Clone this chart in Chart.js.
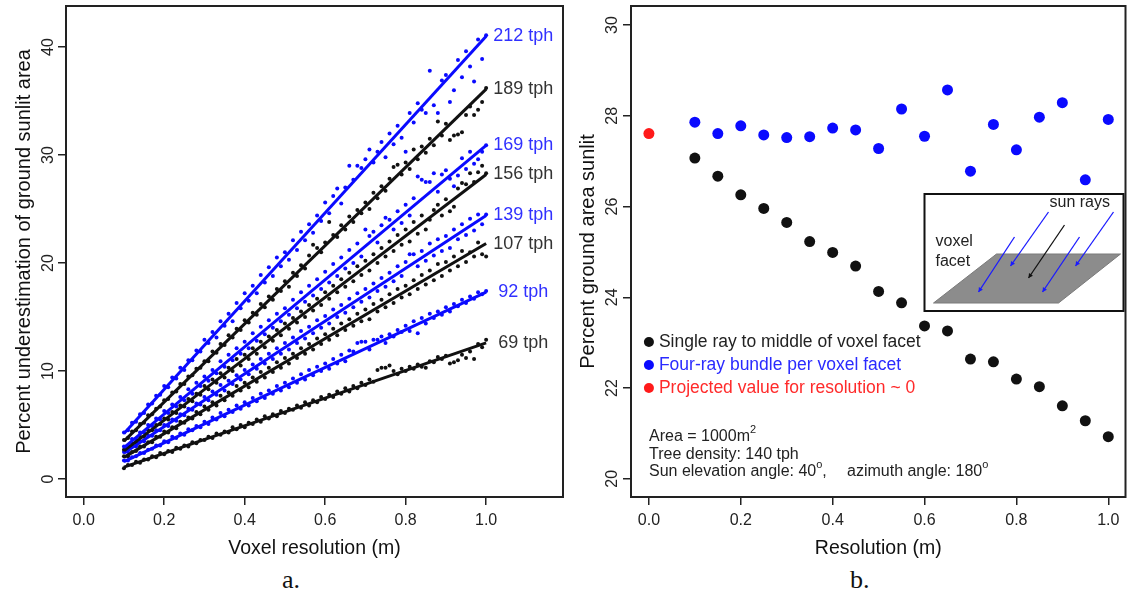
<!DOCTYPE html>
<html lang="en">
<head>
  <meta charset="UTF-8" />
  <title>Ground sunlit area vs voxel resolution</title>
  <style>
    html, body { margin: 0; padding: 0; background: #fff; }
    body { width: 1131px; height: 593px; position: relative; overflow: hidden; }
    #chartA { position: absolute; left: 0; top: 0; }
    #chartB { position: absolute; left: 570px; top: 0; }
    .caption {
      position: absolute; top: 567px;
      font-family: "Liberation Serif", "Times New Roman", serif;
      font-size: 26px; line-height: 26px; color: #111;
    }
  </style>
</head>
<body>

  <canvas id="chartA" width="570" height="561"></canvas>
  <canvas id="chartB" width="561" height="561"></canvas>
  <div class="caption" style="left:282px">a.</div>
  <div class="caption" style="left:850px">b.</div>

  <script src="https://cdn.jsdelivr.net/npm/chart.js"></script>
  <script>
    // ---- panel a: underestimation vs voxel resolution, one series per tree density ----
    const resolutionA = [
      0.10, 0.11, 0.12, 0.13, 0.14, 0.15, 0.16, 0.17, 0.18, 0.19,
      0.20, 0.21, 0.22, 0.23, 0.24, 0.25, 0.26, 0.27, 0.28, 0.29,
      0.30, 0.31, 0.32, 0.33, 0.34, 0.35, 0.36, 0.37, 0.38, 0.39,
      0.40, 0.41, 0.42, 0.43, 0.44, 0.45, 0.46, 0.47, 0.48, 0.49,
      0.50, 0.51, 0.52, 0.53, 0.54, 0.55, 0.56, 0.57, 0.58, 0.59,
      0.60, 0.61, 0.62, 0.63, 0.64, 0.65, 0.66, 0.67, 0.68, 0.69,
      0.70, 0.71, 0.72, 0.73, 0.74, 0.75, 0.76, 0.77, 0.78, 0.79,
      0.80, 0.81, 0.82, 0.83, 0.84, 0.85, 0.86, 0.87, 0.88, 0.89,
      0.90, 0.91, 0.92, 0.93, 0.94, 0.95, 0.96, 0.97, 0.98, 0.99,
      1.00
    ];
    const tph212 = [
      4.3, 4.5, 5.2, 5.3, 6.0, 6.1, 6.9, 7.0, 7.7, 7.8,
      8.6, 8.5, 9.4, 9.3, 10.3, 10.1, 11.0, 11.0, 11.9, 11.8,
      12.9, 12.6, 13.6, 13.1, 14.6, 14.2, 15.3, 14.6, 16.3, 15.8,
      17.2, 16.5, 17.9, 17.2, 18.9, 18.2, 19.6, 18.8, 20.5, 19.7,
      21.0, 20.3, 22.1, 21.2, 22.9, 22.1, 23.6, 22.8, 24.4, 23.9,
      25.6, 24.6, 26.2, 26.9, 25.5, 27.0, 29.0, 27.7, 29.0, 28.8,
      29.6, 30.5, 29.3, 30.3, 31.2, 29.8, 32.0, 31.0, 32.7, 31.6,
      30.3, 33.9, 33.0, 34.8, 34.2, 33.9, 37.8, 34.6, 33.9, 36.9,
      37.4, 34.9, 36.0, 38.8, 37.2, 39.6, 38.2, 36.8, 40.7, 38.9,
      41.1
    ];
    const tph189 = [
      3.6, 3.8, 4.4, 4.5, 5.1, 5.2, 5.9, 6.0, 6.5, 6.7,
      7.3, 7.4, 8.0, 8.1, 8.8, 8.8, 9.5, 9.6, 10.2, 10.3,
      10.9, 10.9, 11.8, 11.7, 12.5, 12.4, 13.3, 13.1, 13.9, 13.8,
      14.7, 14.5, 15.4, 15.2, 16.2, 15.9, 16.9, 16.6, 17.6, 17.4,
      18.3, 17.8, 19.1, 18.8, 19.8, 19.5, 20.7, 21.7, 21.4, 21.0,
      21.9, 23.8, 22.6, 22.4, 23.5, 23.1, 24.3, 23.8, 24.9, 24.6,
      25.6, 25.0, 26.5, 26.0, 27.1, 26.7, 27.8, 28.9, 29.1, 28.2,
      29.3, 28.7, 30.5, 29.6, 30.8, 30.2, 31.5, 30.9, 33.1, 31.8,
      32.9, 31.4, 31.8, 31.9, 32.1, 33.7, 34.5, 33.7, 34.2, 34.9,
      36.2
    ];
    const tph169 = [
      3.0, 3.1, 3.7, 3.7, 4.3, 4.3, 5.0, 4.9, 5.6, 5.5,
      6.3, 6.1, 6.9, 6.7, 7.6, 7.3, 8.3, 7.9, 8.9, 8.6,
      9.5, 9.1, 10.1, 9.8, 10.9, 10.4, 11.5, 11.0, 12.1, 11.6,
      12.7, 12.1, 13.5, 12.8, 14.1, 13.4, 14.7, 14.0, 15.3, 14.6,
      15.8, 15.2, 16.6, 15.8, 17.3, 16.4, 17.9, 17.0, 18.5, 17.6,
      19.2, 18.2, 19.9, 18.8, 20.5, 19.5, 21.2, 20.0, 21.8, 20.6,
      23.1, 22.5, 22.9, 21.9, 23.5, 24.2, 24.0, 23.1, 24.8, 23.7,
      25.4, 24.4, 26.0, 28.0, 27.7, 27.5, 27.5, 28.3, 26.6, 28.2,
      28.6, 27.8, 27.1, 28.1, 29.7, 28.7, 30.3, 29.2, 29.6, 30.3,
      30.9
    ];
    const tph156 = [
      2.7, 2.8, 3.3, 3.4, 3.9, 3.9, 4.5, 4.5, 5.0, 5.1,
      5.6, 5.5, 6.2, 6.1, 6.8, 6.7, 7.4, 7.2, 7.9, 7.8,
      8.6, 8.3, 9.2, 8.9, 9.8, 9.4, 10.3, 10.0, 11.1, 10.5,
      11.5, 11.1, 12.1, 11.6, 12.7, 12.2, 13.2, 12.8, 13.8, 13.3,
      14.4, 13.9, 14.9, 14.5, 15.5, 15.0, 16.1, 15.6, 16.7, 16.1,
      17.3, 16.7, 17.9, 17.3, 18.5, 17.8, 19.1, 18.3, 19.7, 18.9,
      20.2, 19.3, 20.8, 20.0, 21.4, 20.6, 22.0, 21.1, 22.6, 21.7,
      23.1, 22.0, 23.8, 22.7, 24.4, 23.1, 24.0, 24.9, 25.4, 24.4,
      25.9, 24.8, 25.2, 26.9, 27.4, 27.3, 28.3, 27.5, 28.4, 29.0,
      28.3
    ];
    const tph139 = [
      2.5, 2.5, 3.0, 3.0, 3.5, 3.5, 4.0, 4.0, 4.5, 4.5,
      5.0, 4.9, 5.5, 5.4, 6.0, 5.9, 6.5, 6.4, 7.0, 6.9,
      7.6, 7.3, 8.1, 7.8, 8.7, 8.2, 9.1, 8.8, 9.6, 9.2,
      10.1, 9.7, 10.6, 10.2, 11.1, 10.7, 11.6, 11.1, 12.1, 11.6,
      12.6, 12.0, 13.1, 12.6, 13.7, 13.0, 14.1, 13.5, 14.7, 14.0,
      15.1, 14.4, 15.7, 15.0, 16.1, 15.4, 16.7, 15.9, 17.2, 16.4,
      17.6, 16.8, 18.1, 17.4, 18.6, 17.8, 19.1, 18.3, 19.7, 18.8,
      20.1, 20.8, 20.8, 19.7, 21.1, 20.2, 21.8, 20.7, 22.2, 21.1,
      22.5, 21.4, 23.1, 22.2, 23.6, 22.6, 24.1, 23.0, 24.5, 23.6,
      24.5
    ];
    const tph107 = [
      2.1, 2.1, 2.5, 2.6, 3.0, 3.0, 3.4, 3.4, 3.9, 3.9,
      4.4, 4.3, 4.8, 4.7, 5.3, 5.2, 5.7, 5.6, 6.2, 6.0,
      6.7, 6.4, 7.1, 6.8, 7.7, 7.3, 8.0, 7.7, 8.6, 8.2,
      8.9, 8.5, 9.4, 9.0, 9.9, 9.4, 10.3, 9.9, 10.8, 10.3,
      11.2, 10.7, 11.6, 11.2, 12.1, 11.6, 12.5, 12.0, 13.0, 12.5,
      13.4, 12.9, 13.9, 13.3, 14.4, 13.8, 14.8, 14.2, 15.3, 14.6,
      15.7, 14.8, 16.2, 15.5, 16.6, 15.9, 17.1, 16.3, 17.6, 16.8,
      17.9, 17.1, 18.4, 17.6, 18.9, 18.0, 19.3, 18.4, 19.9, 18.8,
      20.1, 19.3, 20.6, 19.7, 21.1, 20.1, 21.0, 20.6, 21.9, 20.8,
      20.6
    ];
    const tph92 = [
      1.7, 1.7, 2.0, 2.1, 2.4, 2.4, 2.7, 2.8, 3.1, 3.1,
      3.5, 3.4, 3.9, 3.8, 4.2, 4.1, 4.6, 4.5, 4.9, 4.8,
      5.3, 5.1, 5.7, 5.5, 6.1, 5.8, 6.4, 6.2, 6.8, 6.5,
      7.1, 6.8, 7.5, 7.2, 7.9, 7.5, 8.2, 7.9, 8.6, 8.2,
      8.9, 8.5, 9.3, 8.9, 9.7, 9.2, 10.1, 9.6, 10.4, 10.0,
      10.7, 10.2, 11.1, 10.7, 11.5, 10.9, 11.9, 11.8, 12.6, 12.7,
      12.7, 12.0, 12.9, 12.9, 13.2, 12.6, 13.4, 13.2, 13.8, 13.6,
      14.2, 13.7, 14.6, 13.5, 14.9, 14.4, 15.3, 14.9, 15.5, 15.2,
      15.9, 15.5, 16.2, 16.0, 16.6, 16.3, 16.9, 16.7, 17.3, 17.1,
      17.4
    ];
    const tph69 = [
      1.0, 1.3, 1.3, 1.6, 1.5, 1.8, 1.8, 2.1, 2.0, 2.4,
      2.3, 2.6, 2.5, 2.9, 2.8, 3.1, 3.0, 3.4, 3.3, 3.6,
      3.6, 3.9, 3.8, 4.2, 4.1, 4.4, 4.3, 4.8, 4.6, 5.0,
      4.8, 5.2, 5.1, 5.5, 5.3, 5.8, 5.6, 6.0, 5.8, 6.3,
      6.1, 6.5, 6.4, 6.8, 6.6, 7.1, 6.8, 7.3, 7.1, 7.6,
      7.4, 7.8, 7.6, 8.1, 7.9, 8.4, 8.1, 8.6, 8.4, 8.9,
      8.7, 9.2, 9.0, 10.1, 10.3, 10.3, 10.5, 10.0, 9.7, 10.2,
      10.0, 10.4, 10.2, 10.6, 10.4, 10.3, 10.9, 10.8, 11.3, 11.1,
      11.4, 10.7, 10.8, 11.0, 11.5, 11.2, 11.8, 11.1, 12.5, 12.2,
      12.9
    ];
    const tphLabels = ['212 tph', '189 tph', '169 tph', '156 tph', '139 tph', '107 tph', '92 tph', '69 tph'];
    // fitted lines: value at the first and last resolution
    const fitX = [0.1, 1.0];
    const fitStart = [4.2, 3.5, 2.9, 2.6, 2.4, 2.0, 1.6, 1.1];
    const fitEnd = [41.0, 36.1, 30.9, 28.2, 24.4, 21.8, 17.3, 12.6];
    const xTicksA = [0.0, 0.2, 0.4, 0.6, 0.8, 1.0];
    const yTicksA = [0, 10, 20, 30, 40];

    // ---- panel b: percent ground area sunlit ----
    const resolutionB = [0.10, 0.15, 0.20, 0.25, 0.30, 0.35, 0.40, 0.45, 0.50, 0.55,
                         0.60, 0.65, 0.70, 0.75, 0.80, 0.85, 0.90, 0.95, 1.00];
    const singleRay = [27.07, 26.67, 26.26, 25.96, 25.65, 25.23, 24.99, 24.69, 24.13, 23.88,
                       23.37, 23.26, 22.64, 22.58, 22.20, 22.03, 21.61, 21.28, 20.93];
    const fourRay = [27.86, 27.61, 27.78, 27.58, 27.52, 27.54, 27.73, 27.69, 27.28, 28.15,
                     27.55, 28.57, 26.78, 27.81, 27.25, 27.97, 28.29, 26.59, 27.92];
    const projectedX = [0.0];
    const projectedY = [27.61];
    const legendB = ['Single ray to middle of voxel facet', 'Four-ray bundle per voxel facet', 'Projected value for resolution ~ 0'];
    const xTicksB = [0.0, 0.2, 0.4, 0.6, 0.8, 1.0];
    const yTicksB = [20, 22, 24, 26, 28, 30];

    const FONT = '"Liberation Sans", Arial, sans-serif';
    const BLUE = '#0a0aff';
    const DARK = '#111';

    function axis(opts) {
      const horiz = opts.horiz;
      return {
        type: 'linear', bounds: 'data', min: opts.min, max: opts.max,
        afterBuildTicks: s => { s.ticks = opts.ticks.map(v => ({ value: v })); },
        afterFit: s => {
          if (horiz) s.height = opts.size; else s.width = opts.size;
          // no extra room for overhanging labels, the plot box is placed by hand
          s.paddingTop = 0; s.paddingBottom = 0; s.paddingLeft = 0; s.paddingRight = 0;
        },
        border: { display: false },
        grid: { drawOnChartArea: false, drawTicks: true, tickLength: 8, color: '#222', lineWidth: 1.5 },
        ticks: {
          autoSkip: false, color: '#222', font: { family: FONT, size: 16 },
          padding: opts.tickPad,
          minRotation: horiz ? 0 : 90, maxRotation: horiz ? 0 : 90,
          crossAlign: horiz ? 'near' : 'center',
          callback: v => horiz ? v.toFixed(1) : String(v)
        },
        title: {
          display: true, text: opts.title, color: '#111',
          font: { family: FONT, size: horiz ? 19.5 : 20 }, padding: opts.titlePad
        }
      };
    }

    // box round the plot area, like R's bty="o"
    function drawBox(chart) {
      const { ctx, chartArea: a } = chart;
      ctx.save();
      ctx.strokeStyle = '#222';
      ctx.lineWidth = 2;
      ctx.strokeRect(a.left, a.top, a.right - a.left, a.bottom - a.top);
      ctx.restore();
    }

    const panelA = {
      id: 'panelA',
      afterDraw(chart) {
        drawBox(chart);
        const { ctx, scales: { x, y } } = chart;
        ctx.save();
        ctx.font = '18px ' + FONT;
        ctx.textBaseline = 'middle';
        ctx.textAlign = 'left';
        tphLabels.forEach((t, i) => {
          ctx.fillStyle = i % 2 === 0 ? '#3030ff' : '#333';
          const nudge = i >= 6 ? 12 : 7;
          ctx.fillText(t, x.getPixelForValue(fitX[1]) + nudge, y.getPixelForValue(fitEnd[i]));
        });
        ctx.restore();
      }
    };

    // text with small raised parts: [[text, sup], ...]
    function richText(ctx, parts, x, y, size) {
      let cx = x;
      parts.forEach(([t, sup]) => {
        ctx.font = (sup ? Math.round(size * 0.7) : size) + 'px ' + FONT;
        ctx.fillText(t, cx, sup ? y - size * 0.45 : y);
        cx += ctx.measureText(t).width;
      });
    }

    function arrowLine(ctx, x1, y1, x2, y2, color) {
      ctx.strokeStyle = color;
      ctx.fillStyle = color;
      ctx.lineWidth = 1.3;
      ctx.beginPath();
      ctx.moveTo(x1, y1);
      ctx.lineTo(x2, y2);
      ctx.stroke();
      const ang = Math.atan2(y2 - y1, x2 - x1);
      ctx.beginPath();
      ctx.moveTo(x2, y2);
      ctx.lineTo(x2 - 5 * Math.cos(ang - 0.5), y2 - 5 * Math.sin(ang - 0.5));
      ctx.lineTo(x2 - 5 * Math.cos(ang + 0.5), y2 - 5 * Math.sin(ang + 0.5));
      ctx.closePath();
      ctx.fill();
    }

    const panelB = {
      id: 'panelB',
      afterDraw(chart) {
        drawBox(chart);
        const { ctx, chartArea: a, scales: { x } } = chart;
        ctx.save();

        // legend
        const colors = [DARK, BLUE, '#ff1a1a'];
        const textColors = ['#222', '#2a2aff', '#ff2a2a'];
        const bx = x.getPixelForValue(0);
        ctx.font = '17.5px ' + FONT;
        ctx.textBaseline = 'middle';
        ctx.textAlign = 'left';
        legendB.forEach((t, i) => {
          const by = a.top + 336 + i * 23;
          ctx.fillStyle = colors[i];
          ctx.beginPath();
          ctx.arc(bx, by, 5, 0, Math.PI * 2);
          ctx.fill();
          ctx.fillStyle = textColors[i];
          ctx.fillText(t, bx + 10, by);
        });

        // notes
        ctx.fillStyle = '#222';
        const nx = a.left + 18;
        richText(ctx, [['Area = 1000m', false], ['2', true]], nx, a.top + 431, 16);
        richText(ctx, [['Tree density: 140 tph', false]], nx, a.top + 448.5, 16);
        richText(ctx, [['Sun elevation angle: 40', false], ['o', true], [',', false]], nx, a.top + 466, 16);
        richText(ctx, [['azimuth angle: 180', false], ['o', true]], nx + 198, a.top + 466, 16);

        // inset sketch of a voxel facet with sun rays
        const ix = a.right - 201, iy = a.top + 188;
        ctx.fillStyle = '#fff';
        ctx.fillRect(ix, iy, 199, 117);
        ctx.strokeStyle = '#111';
        ctx.lineWidth = 2;
        ctx.strokeRect(ix, iy, 199, 117);
        ctx.fillStyle = '#8c8c8c';
        ctx.strokeStyle = '#7a7a7a';
        ctx.lineWidth = 1;
        ctx.beginPath();
        ctx.moveTo(ix + 72, iy + 60);
        ctx.lineTo(ix + 196, iy + 60);
        ctx.lineTo(ix + 134, iy + 109);
        ctx.lineTo(ix + 9, iy + 109);
        ctx.closePath();
        ctx.fill();
        ctx.stroke();
        arrowLine(ctx, ix + 90, iy + 43, ix + 54, iy + 98, '#1a1aff');
        arrowLine(ctx, ix + 124, iy + 18, ix + 86, iy + 72, '#1a1aff');
        arrowLine(ctx, ix + 155, iy + 43, ix + 118, iy + 98, '#1a1aff');
        arrowLine(ctx, ix + 189, iy + 18, ix + 151, iy + 72, '#1a1aff');
        arrowLine(ctx, ix + 140, iy + 31, ix + 104, iy + 84, '#111');
        ctx.fillStyle = '#222';
        ctx.font = '16px ' + FONT;
        ctx.textBaseline = 'middle';
        ctx.fillText('sun rays', ix + 125, iy + 9);
        ctx.fillText('voxel', ix + 11, iy + 48);
        ctx.fillText('facet', ix + 11, iy + 68);
        ctx.restore();
      }
    };

    const seriesA = [tph212, tph189, tph169, tph156, tph139, tph107, tph92, tph69];
    const datasetsA = [];
    seriesA.forEach((vals, i) => {
      const col = i % 2 === 0 ? BLUE : DARK;
      datasetsA.push({
        label: tphLabels[i] + ' fit',
        data: [{ x: fitX[0], y: fitStart[i] }, { x: fitX[1], y: fitEnd[i] }],
        showLine: true, borderColor: col, borderWidth: 3, pointRadius: 0, order: 0
      });
      datasetsA.push({
        label: tphLabels[i],
        data: resolutionA.map((r, k) => ({ x: r, y: vals[k] })),
        backgroundColor: col, borderWidth: 0, pointRadius: 2, order: 1
      });
    });

    new Chart(document.getElementById('chartA'), {
      type: 'scatter',
      data: { datasets: datasetsA },
      options: {
        responsive: false, animation: false,
        layout: { padding: { top: 6, right: 7, left: 0, bottom: 0 } },
        plugins: { legend: { display: false }, tooltip: { enabled: false } },
        scales: {
          x: axis({ horiz: true, min: -0.044, max: 1.191, ticks: xTicksA, size: 64, tickPad: 6,
                    title: 'Voxel resolution (m)', titlePad: { top: 0, bottom: 1 } }),
          y: axis({ horiz: false, min: -1.67, max: 43.8, ticks: yTicksA, size: 66, tickPad: 1,
                    title: 'Percent underestimation of ground sunlit area',
                    titlePad: { top: 12, bottom: 0 } })
        }
      },
      plugins: [panelA]
    });

    new Chart(document.getElementById('chartB'), {
      type: 'scatter',
      data: {
        datasets: [
          { label: legendB[0], data: resolutionB.map((r, k) => ({ x: r, y: singleRay[k] })),
            backgroundColor: DARK, borderWidth: 0, pointRadius: 5.5 },
          { label: legendB[1], data: resolutionB.map((r, k) => ({ x: r, y: fourRay[k] })),
            backgroundColor: BLUE, borderWidth: 0, pointRadius: 5.5 },
          { label: legendB[2], data: projectedX.map((r, k) => ({ x: r, y: projectedY[k] })),
            backgroundColor: '#ff1a1a', borderWidth: 0, pointRadius: 5.5 }
        ]
      },
      options: {
        responsive: false, animation: false,
        layout: { padding: { top: 6, right: 2, left: 0, bottom: 0 } },
        plugins: { legend: { display: false }, tooltip: { enabled: false } },
        scales: {
          x: axis({ horiz: true, min: -0.039, max: 1.0375, ticks: xTicksB, size: 64, tickPad: 6,
                    title: 'Resolution (m)', titlePad: { top: 0, bottom: 1 } }),
          y: axis({ horiz: false, min: 19.6, max: 30.42, ticks: yTicksB, size: 61, tickPad: 2,
                    title: 'Percent ground area sunlit', titlePad: { top: 6, bottom: 0 } })
        }
      },
      plugins: [panelB]
    });
  </script>
</body>
</html>
